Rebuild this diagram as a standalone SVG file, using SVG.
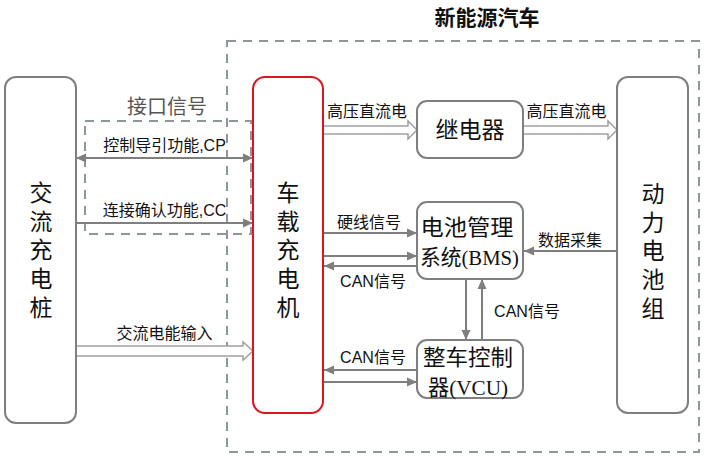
<svg xmlns="http://www.w3.org/2000/svg" width="706" height="458" viewBox="0 0 706 458">
<style>
.bg{fill:#fff}
.node{fill:#fff;stroke:#7f7f7f;stroke-width:2}
.red{fill:#fff;stroke:#e0141e;stroke-width:2}
.dash{fill:none;stroke:#8c979c;stroke-width:2;stroke-dasharray:9 7}
.ln{fill:none;stroke:#7f7f7f;stroke-width:2}
.hollow{fill:#fff;stroke:#a0a0a0;stroke-width:1.5}
.lbl{font-family:"Liberation Sans","Noto Sans CJK SC",sans-serif;font-size:16px;fill:#111;text-anchor:middle}
.nt{font-family:"Liberation Sans","Noto Sans CJK SC",sans-serif;font-size:23px;fill:#111;text-anchor:middle;dominant-baseline:central}
.st{font-family:"Liberation Serif","Noto Sans CJK SC",serif;font-size:22px;fill:#111;text-anchor:middle;dominant-baseline:central}
.title{font-family:"Noto Sans CJK SC",sans-serif;font-size:21px;font-weight:bold;fill:#111;text-anchor:middle}
.grp{font-family:"Noto Sans CJK SC",sans-serif;font-size:20px;fill:#555;text-anchor:middle}
</style>
<defs>
<marker id="ah" markerUnits="userSpaceOnUse" markerWidth="11" markerHeight="10" refX="10" refY="5" orient="auto-start-reverse">
<path d="M0,0.5 L10,5 L0,9.5 Z" fill="#7f7f7f"/>
</marker>
</defs>
<rect class="bg" x="0" y="0" width="706" height="458"/>
<g id="groups">
<rect class="dash" x="227" y="41" width="472" height="411"/>
<text class="title" x="487" y="25">新能源汽车</text>
<rect class="dash" x="85" y="121" width="166" height="113"/>
<text class="grp" x="167" y="114">接口信号</text>
</g>
<g id="connectors">
<line class="ln" x1="76" y1="158" x2="253" y2="158" marker-start="url(#ah)" marker-end="url(#ah)"/>
<line class="ln" x1="76" y1="223" x2="253" y2="223" marker-end="url(#ah)"/>
<polygon class="hollow" points="76,346 243,346 243,342 253,351 243,360 243,356 76,356"/>
<polygon class="hollow" points="323,126 408,126 408,121 417,130 408,139 408,134 323,134"/>
<polygon class="hollow" points="523,126 608,126 608,121 617,130 608,139 608,134 523,134"/>
<line class="ln" x1="324" y1="233" x2="417" y2="233" marker-end="url(#ah)"/>
<line class="ln" x1="324" y1="256" x2="417" y2="256" marker-end="url(#ah)"/>
<line class="ln" x1="417" y1="266" x2="324" y2="266" marker-end="url(#ah)"/>
<line class="ln" x1="617" y1="251" x2="524" y2="251" marker-end="url(#ah)"/>
<line class="ln" x1="466" y1="279" x2="466" y2="340" marker-end="url(#ah)"/>
<line class="ln" x1="482" y1="340" x2="482" y2="279" marker-end="url(#ah)"/>
<line class="ln" x1="417" y1="370" x2="324" y2="370" marker-end="url(#ah)"/>
<line class="ln" x1="324" y1="382" x2="417" y2="382" marker-end="url(#ah)"/>
<text class="lbl" x="164.5" y="151">控制导引功能,CP</text>
<text class="lbl" x="164.5" y="216">连接确认功能,CC</text>
<text class="lbl" x="164.5" y="339">交流电能输入</text>
<text class="lbl" x="367" y="117">高压直流电</text>
<text class="lbl" x="566.5" y="117">高压直流电</text>
<text class="lbl" x="369" y="228">硬线信号</text>
<text class="lbl" x="373" y="287">CAN信号</text>
<text class="lbl" x="570" y="246">数据采集</text>
<text class="lbl" x="527" y="317">CAN信号</text>
<text class="lbl" x="373" y="363">CAN信号</text>
</g>
<g id="ac-charger">
<rect class="node" x="5" y="77" width="71" height="346" rx="11"/>
<text class="nt" x="41" y="193"><tspan x="41" dy="0">交</tspan><tspan x="41" dy="28.7">流</tspan><tspan x="41" dy="28.7">充</tspan><tspan x="41" dy="28.7">电</tspan><tspan x="41" dy="28.7">桩</tspan></text>
</g>
<g id="obc">
<rect class="red" x="253" y="77" width="70" height="336" rx="12"/>
<text class="nt" x="288" y="193"><tspan x="288" dy="0">车</tspan><tspan x="288" dy="28.7">载</tspan><tspan x="288" dy="28.7">充</tspan><tspan x="288" dy="28.7">电</tspan><tspan x="288" dy="28.7">机</tspan></text>
</g>
<g id="battery">
<rect class="node" x="617" y="77" width="71" height="336" rx="11"/>
<text class="nt" x="653" y="194"><tspan x="653" dy="0">动</tspan><tspan x="653" dy="28.7">力</tspan><tspan x="653" dy="28.7">电</tspan><tspan x="653" dy="28.7">池</tspan><tspan x="653" dy="28.7">组</tspan></text>
</g>
<g id="relay">
<rect class="node" x="417" y="101" width="106" height="57" rx="10"/>
<text class="nt" x="470" y="130">继电器</text>
</g>
<g id="bms">
<rect class="node" x="417" y="202" width="106" height="77" rx="10"/>
<text class="st" x="467" y="227" textLength="93" lengthAdjust="spacingAndGlyphs">电池管理</text>
<text class="st" x="469.5" y="257" textLength="99" lengthAdjust="spacingAndGlyphs">系统(BMS)</text>
</g>
<g id="vcu">
<rect class="node" x="417" y="340" width="106" height="58" rx="10"/>
<text class="st" x="468" y="357" textLength="90" lengthAdjust="spacingAndGlyphs">整车控制</text>
<text class="st" x="468" y="387" textLength="80" lengthAdjust="spacingAndGlyphs">器(VCU)</text>
</g>
</svg>
